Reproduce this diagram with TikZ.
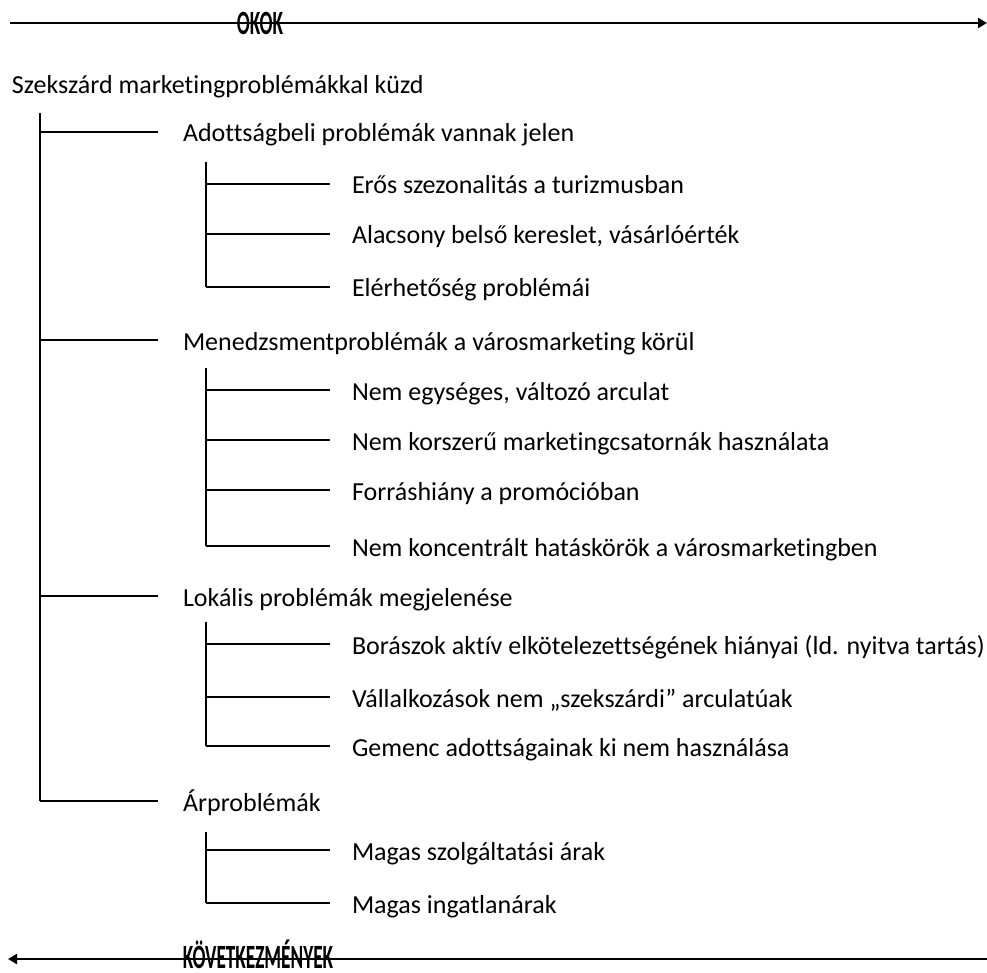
\documentclass[tikz,border=0pt]{standalone}
\usepackage{fontspec}
\setmainfont{Carlito}[Ligatures=NoCommon]
\usetikzlibrary{arrows.meta}
\begin{document}
\begin{tikzpicture}[x=1pt,y=-1pt,
  every node/.style={inner sep=0pt,outer sep=0pt},
  lbl/.style={anchor=base west,font=\fontsize{26}{30}\selectfont},
  tline/.style={line width=1.4pt},
  bigarrow/.style={line width=2.6pt,-{Triangle[length=9pt,width=10pt]}},
  hd/.style={font=\fontsize{34}{38}\selectfont\bfseries,xscale=0.565}]
\useasboundingbox (0,0) rectangle (987,973);
% top arrow
\coordinate (ta) at (10,23);
\coordinate (tb) at (987,23);
\draw[bigarrow] (ta) -- (tb);
\node[hd,anchor=base] (okok) at (260,35) {OKOK};
% bottom arrow
\coordinate (ba) at (987,959);
\coordinate (bb) at (8,959);
\draw[bigarrow] (ba) -- (bb);
\node[hd,anchor=base] (kov) at (258,968) {KÖVETKEZMÉNYEK};
% root
\node[lbl] (root) at (12,94) {Szekszárd marketingproblémákkal küzd};
% level 1
\coordinate (v1top) at (40,113);
\coordinate (v1bot) at (40,801);
\foreach \y/\n/\t in {132/a/Adottságbeli problémák vannak jelen,
  340/b/Menedzsmentproblémák a városmarketing körül,
  596/c/Lokális problémák megjelenése,
  801/d/Árproblémák}{
  \coordinate (h\n) at (40,\y);
  \coordinate (e\n) at (158,\y);
  \node[lbl] (\n) at (183,\y+10) {\t};
  \draw[tline] (h\n) -- (e\n);
}
\draw[tline] (v1top) -- (v1bot);
% level 2 groups
\newcommand{\grp}[3]{% top, bottom, name
  \coordinate (#3top) at (206,#1);
  \coordinate (#3bot) at (206,#2);
  \draw[tline] (#3top) -- (#3bot);
}
\grp{162}{287}{ga}
\grp{368}{546}{gb}
\grp{622}{746}{gc}
\grp{832}{903}{gd}
\foreach \y/\n/\t in {184/a1/Erős szezonalitás a turizmusban,
  234/a2/{Alacsony belső kereslet, vásárlóérték},
  287/a3/Elérhetőség problémái,
  390/b1/{Nem egységes, változó arculat},
  440/b2/Nem korszerű marketingcsatornák használata,
  490/b3/Forráshiány a promócióban,
  546/b4/Nem koncentrált hatáskörök a városmarketingben,
  644/c1/Borászok aktív elkötelezettségének hiányai (ld. nyitva tartás),
  697/c2/Vállalkozások nem „szekszárdi” arculatúak,
  746/c3/Gemenc adottságainak ki nem használása,
  850/d1/Magas szolgáltatási árak,
  903/d2/Magas ingatlanárak}{
  \coordinate (s\n) at (206,\y);
  \coordinate (t\n) at (330,\y);
  \draw[tline] (s\n) -- (t\n);
  \node[lbl] (\n) at (352,\y+10) {\t};
}
\end{tikzpicture}
\end{document}
